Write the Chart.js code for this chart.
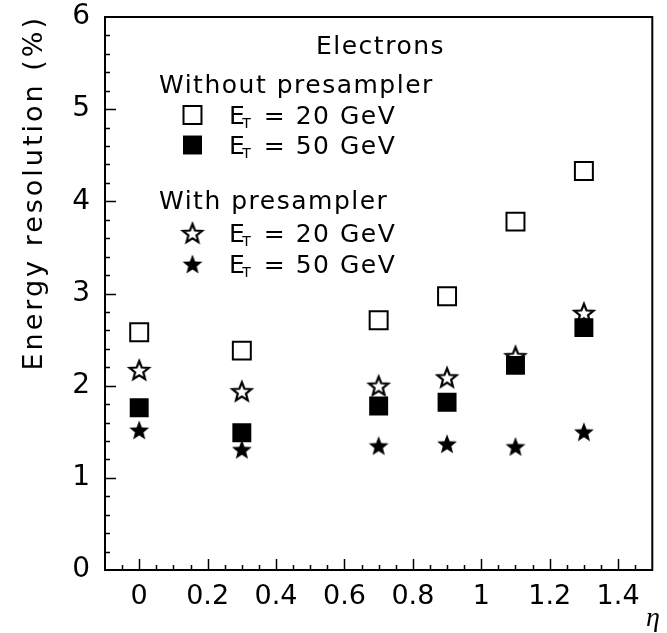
<!DOCTYPE html>
<html>
<head>
<meta charset="utf-8">
<title>Energy resolution vs eta</title>
<script src="https://cdn.jsdelivr.net/npm/chart.js@4.4.1/dist/chart.umd.min.js"></script>
<style>
    html, body { margin: 0; padding: 0; background: #fff; }
    canvas { display: block; }
</style>
</head>
<body>
<canvas id="resolution-chart" width="667" height="633"></canvas>
<script>
// Pseudorapidity of the measured points
const etaValues = [0, 0.3, 0.7, 0.9, 1.1, 1.3];

// Energy resolution (%) without presampler
const noPresampler20 = [2.58, 2.38, 2.71, 2.97, 3.78, 4.33];
const noPresampler50 = [1.76, 1.49, 1.78, 1.82, 2.22, 2.63];

// Energy resolution (%) with presampler
const withPresampler20 = [2.17, 1.94, 2.00, 2.09, 2.32, 2.79];
const withPresampler50 = [1.52, 1.31, 1.35, 1.37, 1.34, 1.50];

// Axis tick labels
const xTickValues = [0, 0.2, 0.4, 0.6, 0.8, 1, 1.2, 1.4];
const yTickValues = [0, 1, 2, 3, 4, 5, 6];

const groupTitles = ['Without presampler', 'With presampler'];
const energyLabels = ['20', '50'];

const FONT = '"DejaVu Sans", "Noto Sans", sans-serif';
const SERIF = '"Liberation Serif", "DejaVu Serif", serif';

// Five-pointed star marker, drawn once onto a small canvas
function makeStar(filled) {
    const size = 26;
    const c = document.createElement('canvas');
    c.width = size;
    c.height = size;
    const g = c.getContext('2d');
    const R = filled ? 10.4 : 10;
    const r = R * 0.43;
    const cx = size / 2, cy = size / 2 + 1;
    g.beginPath();
    for (let i = 0; i < 10; i++) {
        const a = -Math.PI / 2 + i * Math.PI / 5;
        const rad = i % 2 ? r : R;
        g.lineTo(cx + rad * Math.cos(a), cy + rad * Math.sin(a));
    }
    g.closePath();
    g.fillStyle = filled ? '#000' : '#fff';
    g.fill();
    if (!filled) {
        g.lineWidth = 2.2;
        g.strokeStyle = '#000';
        g.stroke();
    }
    return c;
}

const openStar = makeStar(false);
const fullStar = makeStar(true);

function points(values) {
    return etaValues.map((x, i) => ({ x: x, y: values[i] }));
}

// Inward tick marks, plot frame and axis titles
const framePlugin = {
    id: 'frame',
    beforeDatasetsDraw(chart) {
        const ctx = chart.ctx;
        const area = chart.chartArea;
        const xs = chart.scales.x;
        const ys = chart.scales.y;
        ctx.save();
        ctx.strokeStyle = '#000';
        ctx.lineWidth = 1.5;
        ctx.beginPath();
        for (let k = -1; k <= 29; k++) {
            const major = k % 4 === 0 && k >= 0;
            const px = Math.round(xs.getPixelForValue(k * 0.05)) + 0.5;
            const len = major ? 11 : 5;
            ctx.moveTo(px, area.bottom);
            ctx.lineTo(px, area.bottom - len);
        }
        for (let k = 1; k < 30; k++) {
            const major = k % 5 === 0;
            const py = Math.round(ys.getPixelForValue(k * 0.2)) + 0.5;
            const len = major ? 11 : 5;
            ctx.moveTo(area.left, py);
            ctx.lineTo(area.left + len, py);
        }
        ctx.stroke();
        ctx.restore();
    },
    afterDraw(chart) {
        const ctx = chart.ctx;
        const area = chart.chartArea;
        ctx.save();
        ctx.strokeStyle = '#000';
        ctx.lineWidth = 2;
        ctx.strokeRect(area.left, area.top, area.right - area.left, area.bottom - area.top);

        ctx.fillStyle = '#000';
        ctx.textBaseline = 'alphabetic';

        // x axis title
        ctx.font = 'italic 28px ' + SERIF;
        ctx.textAlign = 'left';
        ctx.fillText('η', 646, 626);

        // y axis title, spaced out a little
        ctx.font = '27px ' + FONT;
        ctx.letterSpacing = '3px';
        ctx.translate(42, 15);
        ctx.rotate(-Math.PI / 2);
        ctx.textAlign = 'right';
        ctx.fillText('Energy resolution (%)', 0, 0);
        ctx.restore();
    }
};

function drawMarker(ctx, ds, x, y) {
    if (ds.pointStyle instanceof HTMLCanvasElement) {
        ctx.drawImage(ds.pointStyle, x - ds.pointStyle.width / 2, y - ds.pointStyle.height / 2);
        return;
    }
    const half = Math.SQRT1_2 * ds.pointRadius;
    ctx.beginPath();
    ctx.rect(x - half, y - half, 2 * half, 2 * half);
    ctx.fillStyle = ds.backgroundColor;
    ctx.fill();
    if (ds.borderWidth > 0) {
        ctx.lineWidth = ds.borderWidth;
        ctx.strokeStyle = ds.borderColor;
        ctx.stroke();
    }
}

// E_T = .. GeV with a subscript T
function drawEnergyLabel(ctx, x, baseline, energy) {
    ctx.font = '25px ' + FONT;
    ctx.fillText('E', x, baseline);
    let w = ctx.measureText('E').width;
    ctx.font = '14px ' + FONT;
    ctx.fillText('T', x + w - 4, baseline + 4);
    w += ctx.measureText('T').width - 2;
    ctx.font = '25px ' + FONT;
    ctx.fillText(' = ' + energy + ' GeV', x + w, baseline);
}

const legendPlugin = {
    id: 'groupedLegend',
    afterDraw(chart) {
        const ctx = chart.ctx;
        const sets = chart.data.datasets;
        ctx.save();
        ctx.fillStyle = '#000';
        ctx.textAlign = 'left';
        ctx.textBaseline = 'alphabetic';
        ctx.letterSpacing = '1.5px';

        ctx.font = '25px ' + FONT;
        ctx.fillText('Electrons', 316, 54);

        const rows = [
            { title: groupTitles[0], titleY: 93, items: [[sets[0], 115], [sets[1], 145]] },
            { title: groupTitles[1], titleY: 209, items: [[sets[2], 233], [sets[3], 264]] }
        ];
        rows.forEach(group => {
            ctx.fillStyle = '#000';
            ctx.font = '25px ' + FONT;
            ctx.fillText(group.title, 159, group.titleY);
            group.items.forEach(([ds, y], i) => {
                drawMarker(ctx, ds, 192.5, y);
                ctx.fillStyle = '#000';
                drawEnergyLabel(ctx, 229, y + 9, energyLabels[i]);
            });
        });
        ctx.restore();
    }
};

const ctx = document.getElementById('resolution-chart').getContext('2d');
const chart = new Chart(ctx, {
    type: 'scatter',
    data: {
        datasets: [
            {
                label: 'Without presampler, ET = 20 GeV',
                data: points(noPresampler20),
                pointStyle: 'rect',
                pointRadius: 12.7,
                backgroundColor: '#fff',
                borderColor: '#000',
                borderWidth: 2,
                order: 4
            },
            {
                label: 'Without presampler, ET = 50 GeV',
                data: points(noPresampler50),
                pointStyle: 'rect',
                pointRadius: 13.4,
                backgroundColor: '#000',
                borderColor: '#000',
                borderWidth: 0,
                order: 2
            },
            {
                label: 'With presampler, ET = 20 GeV',
                data: points(withPresampler20),
                pointStyle: openStar,
                pointRadius: 11,
                order: 3
            },
            {
                label: 'With presampler, ET = 50 GeV',
                data: points(withPresampler50),
                pointStyle: fullStar,
                pointRadius: 11,
                order: 1
            }
        ]
    },
    options: {
        responsive: false,
        animation: false,
        events: [],
        layout: {
            padding: { top: 17, right: 4, left: 0, bottom: 0 }
        },
        plugins: {
            legend: { display: false },
            tooltip: { enabled: false }
        },
        scales: {
            x: {
                type: 'linear',
                min: -0.1,
                max: 1.5,
                afterFit(scale) {
                    scale.height = 63;
                    scale.paddingLeft = 0;
                    scale.paddingRight = 0;
                },
                afterBuildTicks(scale) {
                    scale.ticks = xTickValues.map(v => ({ value: v }));
                },
                grid: { display: false, drawTicks: false },
                border: { display: false },
                ticks: {
                    color: '#000',
                    padding: 11,
                    maxRotation: 0,
                    autoSkip: false,
                    font: { family: FONT, size: 27 },
                    callback: v => String(Math.round(v * 10) / 10)
                }
            },
            y: {
                type: 'linear',
                min: 0,
                max: 6,
                afterFit(scale) {
                    scale.width = 105;
                    scale.paddingTop = 0;
                    scale.paddingBottom = 0;
                },
                afterBuildTicks(scale) {
                    scale.ticks = yTickValues.map(v => ({ value: v }));
                },
                grid: { display: false, drawTicks: false },
                border: { display: false },
                ticks: {
                    color: '#000',
                    padding: 15,
                    font: { family: FONT, size: 28 },
                    callback: v => String(v)
                }
            }
        }
    },
    plugins: [framePlugin, legendPlugin]
});
</script>
</body>
</html>
